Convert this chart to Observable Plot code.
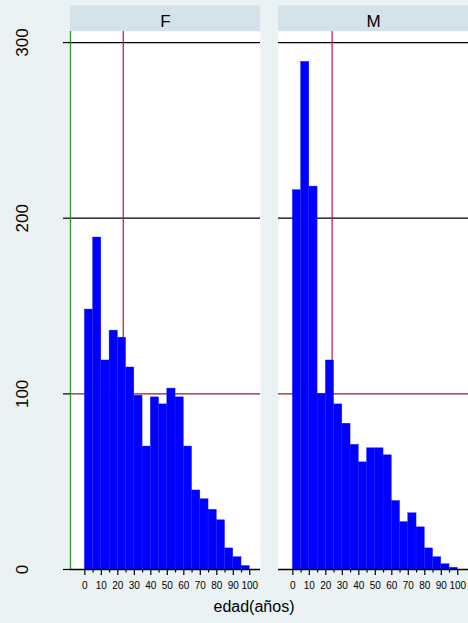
<!DOCTYPE html>
<html>
<head>
<meta charset="utf-8">
<script src="https://cdn.jsdelivr.net/npm/d3@7"></script>
<script src="https://cdn.jsdelivr.net/npm/@observablehq/plot@0.6"></script>
<style>
  html, body { margin: 0; padding: 0; background: #eaf2f3; }
  #chart { width: 468px; height: 623px; overflow: hidden; font-family: "Liberation Sans", Arial, sans-serif; }
  #xlabel { width: 508px; text-align: center; font-size: 16px; line-height: 20px; padding-top: 5px; color: #000; }
</style>
</head>
<body>
<div id="chart"></div>
<script>
// ---- data ----
const sexes = ["F", "M"];
const binStarts = [0, 5, 10, 15, 20, 25, 30, 35, 40, 45, 50, 55, 60, 65, 70, 75, 80, 85, 90, 95];
const binWidth = 5;
const countsF = [148, 189, 119, 136, 132, 115, 99, 70, 98, 94, 103, 98, 70, 45, 40, 34, 28, 12, 7, 2];
const countsM = [216, 289, 218, 100, 119, 94, 83, 71, 61, 69, 69, 65, 39, 27, 32, 24, 12, 7, 3, 1];
const meanAge = [23.3, 23.8];           // red vertical line per panel (F, M)
const yTicks = [0, 100, 200, 300];
const xTicks = [0, 10, 20, 30, 40, 50, 60, 70, 80, 90, 100];
const xMinorTicks = [5, 15, 25, 35, 45, 55, 65, 75, 85, 95];
const xLabel = "edad(años)";

// ---- derived tables ----
const bars = [];
binStarts.forEach((b, i) => {
  bars.push({sexo: "F", x1: b, x2: b + binWidth, n: countsF[i]});
  bars.push({sexo: "M", x1: b, x2: b + binWidth, n: countsM[i]});
});
const means = sexes.map((s, i) => ({sexo: s, edad: meanAge[i]}));

const xDomain = [-8.7, 106.5];
const yTop = 306.3;      // top of plot region
const yHead = 320.9;     // top of facet header band

const font = "Liberation Sans, Arial, sans-serif";

const plot = Plot.plot({
  width: 468,
  height: 592,
  marginLeft: 70,
  marginRight: 0,
  marginTop: 31,
  marginBottom: 23,
  style: {background: "transparent", fontFamily: font, color: "#000", overflow: "visible"},
  fx: {domain: sexes, axis: null, paddingInner: 0.0865, paddingOuter: 0, round: false, label: null},
  x: {domain: xDomain, axis: null, label: null},
  y: {domain: [0, yTop], axis: null, label: null},
  marks: [
    Plot.frame({fill: "white", stroke: null}),
    // header band
    Plot.rect(sexes, {fx: d => d, x1: xDomain[0], x2: xDomain[1], y1: yTop, y2: yHead, fill: "#d6e2e9"}),
    Plot.text(sexes, {fx: d => d, x: (xDomain[0] + xDomain[1]) / 2, y: (yTop + yHead) / 2, text: d => d,
      fontSize: 17, fill: "#000", dy: 2.5}),
    // grid / reference lines
    Plot.ruleY([200, 300], {stroke: "#000", strokeWidth: 1.3}),
    Plot.ruleY([100], {stroke: "#991b35", strokeWidth: 1.3}),
    Plot.ruleX(means, {fx: "sexo", x: "edad", stroke: "#cc1040", strokeWidth: 1.2}),
    // bars
    Plot.rect(bars, {fx: "sexo", x1: "x1", x2: "x2", y1: 0, y2: "n", fill: "#0000ff", stroke: "#1c1cff", strokeWidth: 0.4}),
    // green y-axis line in first panel
    Plot.ruleX([{sexo: "F", v: xDomain[0]}], {fx: "sexo", x: "v", stroke: "#3a9a3a", strokeWidth: 1.4}),
    // x baseline
    Plot.ruleY([0], {stroke: "#000", strokeWidth: 1.3}),
    // axes
    Plot.axisY({ticks: yTicks, label: null, tickSize: 7, tickRotate: -90, tickPadding: 35.7, fontSize: 17,
      stroke: "#000", strokeWidth: 1.2, fill: "#000"}),
    Plot.axisX({ticks: xTicks, label: null, tickSize: 6, tickPadding: 6.5, fontSize: 10, stroke: "#000", strokeWidth: 1.2, fill: "#000"}),
    Plot.axisX({ticks: xMinorTicks, label: null, tickSize: 3.5, tickFormat: () => "", stroke: "#000", strokeWidth: 1.2})
  ]
});

const chart = document.getElementById("chart");
chart.appendChild(plot);
const lab = document.createElement("div");
lab.id = "xlabel";
lab.textContent = xLabel;
chart.appendChild(lab);
</script>
</body>
</html>
